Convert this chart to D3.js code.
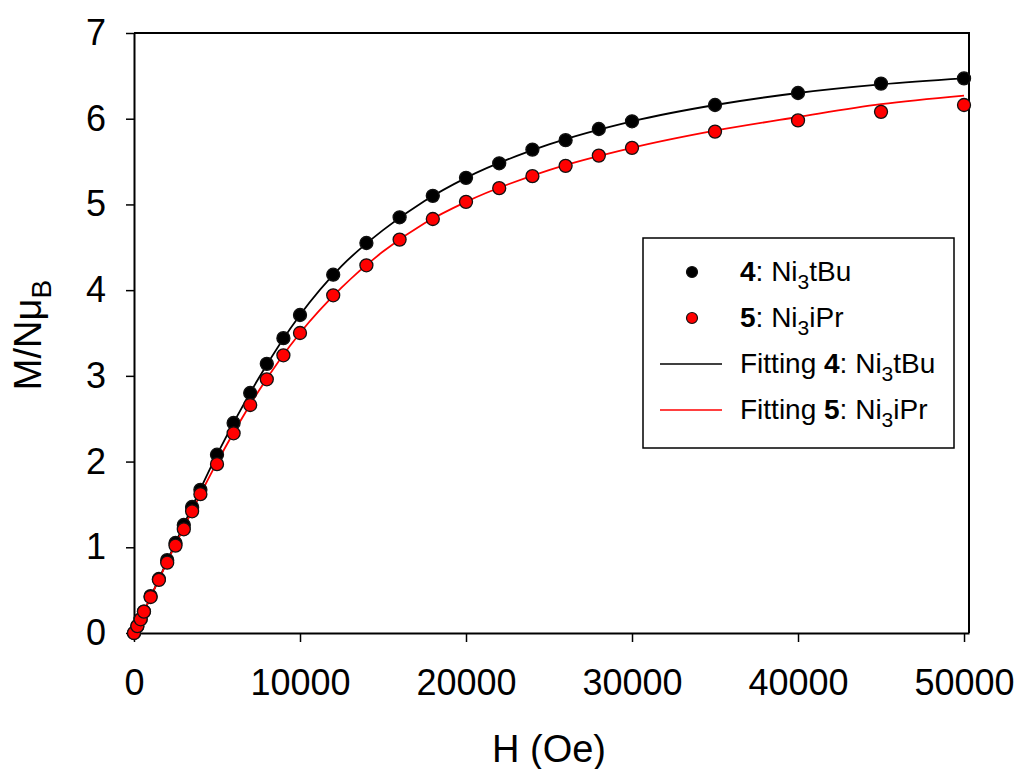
<!DOCTYPE html>
<html>
<head>
<meta charset="utf-8">
<script src="https://cdn.jsdelivr.net/npm/d3@7"></script>
<style>
  body { margin: 0; background: #fff; }
  svg text { font-family: "Liberation Sans", Arial, sans-serif; fill: #000; }
</style>
</head>
<body>
<div id="chart"></div>
<script>
// field values (Oe) for the measured points
var fieldH = [0, 200, 400, 600, 1000, 1500, 2000, 2500, 3000, 3500, 4000, 5000, 6000, 7000, 8000, 9000,
              10000, 12000, 14000, 16000, 18000, 20000, 22000, 24000, 26000, 28000, 30000, 35000, 40000, 45000, 50000];
// 4: Ni3tBu
var magNi3tBu = [0, 0.08, 0.16, 0.25, 0.43, 0.63, 0.85, 1.05, 1.26, 1.47, 1.67, 2.08, 2.45, 2.80, 3.14, 3.44,
                 3.71, 4.18, 4.55, 4.85, 5.10, 5.31, 5.48, 5.64, 5.75, 5.88, 5.97, 6.16, 6.30, 6.41, 6.47];
// 5: Ni3iPr
var magNi3iPr = [0, 0.08, 0.16, 0.25, 0.42, 0.62, 0.82, 1.02, 1.21, 1.42, 1.62, 1.97, 2.33, 2.66, 2.96, 3.24,
                 3.50, 3.94, 4.29, 4.59, 4.83, 5.03, 5.19, 5.33, 5.45, 5.57, 5.66, 5.85, 5.98, 6.08, 6.16];

// fitted curves
var fitH = [0, 2500, 5000, 7500, 10000, 12500, 15000, 17500, 20000, 25000, 30000, 35000, 40000, 45000, 50000];
var fitNi3tBu = [0, 1.05, 2.08, 2.97, 3.71, 4.28, 4.70, 5.04, 5.31, 5.70, 5.97, 6.16, 6.30, 6.40, 6.47];
var fitNi3iPr = [0, 1.03, 1.99, 2.82, 3.50, 4.03, 4.45, 4.78, 5.03, 5.40, 5.66, 5.86, 6.02, 6.17, 6.27];

var xTicks = [0, 10000, 20000, 30000, 40000, 50000];
var yTicks = [0, 1, 2, 3, 4, 5, 6, 7];

var width = 1020, height = 769;
var margin = {left: 134, right: 51, top: 33, bottom: 136};

var svg = d3.select("#chart").append("svg")
    .attr("width", width)
    .attr("height", height);

var x = d3.scaleLinear()
    .domain([0, 50300])
    .range([margin.left, width - margin.right]);

var y = d3.scaleLinear()
    .domain([0, 7])
    .range([height - margin.bottom, margin.top]);

// frame (top and right)
svg.append("path")
    .attr("d", "M" + x(0) + "," + y(7) + "H" + x(50300) + "V" + y(0))
    .attr("fill", "none")
    .attr("stroke", "#000")
    .attr("stroke-width", 2);

var xAxis = svg.append("g")
    .attr("transform", "translate(0," + y(0) + ")")
    .call(d3.axisBottom(x).tickValues(xTicks).tickFormat(d3.format("d")).tickSize(9).tickSizeOuter(0).tickPadding(27));

var yAxis = svg.append("g")
    .attr("transform", "translate(" + x(0) + ",0)")
    .call(d3.axisLeft(y).tickValues(yTicks).tickFormat(d3.format("d")).tickSize(8).tickSizeOuter(0).tickPadding(20));

[xAxis, yAxis].forEach(function(ax) {
    ax.select(".domain").attr("stroke-width", 2);
    ax.selectAll(".tick line").attr("stroke-width", 1.5);
    ax.selectAll(".tick text")
        .style("font-size", "36px")
        .style("font-family", "'Liberation Sans', Arial, sans-serif");
});

// axis titles
svg.append("text")
    .attr("x", 549)
    .attr("y", 762)
    .style("text-anchor", "middle")
    .style("font-size", "38px")
    .text("H (Oe)");

var ylab = svg.append("text")
    .attr("transform", "translate(41,335)rotate(-90)")
    .style("text-anchor", "middle")
    .style("font-size", "38px");
ylab.append("tspan").text("M/N\u03bc");
ylab.append("tspan").attr("dy", 10).style("font-size", "28px").text("B");

// fit lines
var line = d3.line()
    .curve(d3.curveMonotoneX)
    .x(function(d) { return x(d[0]); })
    .y(function(d) { return y(d[1]); });

svg.append("path")
    .datum(d3.zip(fitH, fitNi3tBu))
    .attr("fill", "none")
    .attr("stroke", "#000")
    .attr("stroke-width", 1.8)
    .attr("d", line);

svg.append("path")
    .datum(d3.zip(fitH, fitNi3iPr))
    .attr("fill", "none")
    .attr("stroke", "#ff0000")
    .attr("stroke-width", 1.8)
    .attr("d", line);

// points
function drawPoints(vals, fill) {
    svg.append("g").selectAll("circle")
        .data(d3.zip(fieldH, vals))
        .enter().append("circle")
            .attr("cx", function(d) { return x(d[0]); })
            .attr("cy", function(d) { return y(d[1]); })
            .attr("r", 6.5)
            .attr("fill", fill)
            .attr("stroke", "#111")
            .attr("stroke-width", 1.3);
}
drawPoints(magNi3tBu, "#000");
drawPoints(magNi3iPr, "#ff0000");

// legend
var legend = svg.append("g");
legend.append("rect")
    .attr("x", 643).attr("y", 238)
    .attr("width", 311).attr("height", 210)
    .attr("fill", "#fff")
    .attr("stroke", "#000")
    .attr("stroke-width", 1.5);

var legendRows = [
    {type: "dot", color: "#000", pre: "", num: "4", rest: ["Ni", "3", "tBu"]},
    {type: "dot", color: "#ff0000", pre: "", num: "5", rest: ["Ni", "3", "iPr"]},
    {type: "line", color: "#000", pre: "Fitting ", num: "4", rest: ["Ni", "3", "tBu"]},
    {type: "line", color: "#ff0000", pre: "Fitting ", num: "5", rest: ["Ni", "3", "iPr"]}
];

legendRows.forEach(function(r, i) {
    var cy = 272 + i * 46;
    if (r.type === "dot") {
        legend.append("circle")
            .attr("cx", 692).attr("cy", cy).attr("r", 5.5)
            .attr("fill", r.color).attr("stroke", "#111").attr("stroke-width", 1.2);
    } else {
        legend.append("line")
            .attr("x1", 660).attr("x2", 722).attr("y1", cy).attr("y2", cy)
            .attr("stroke", r.color).attr("stroke-width", 1.5);
    }
    var t = legend.append("text")
        .attr("x", 740).attr("y", cy + 9)
        .style("font-size", "28px");
    if (r.pre) t.append("tspan").text(r.pre);
    t.append("tspan").style("font-weight", "bold").text(r.num);
    t.append("tspan").text(": " + r.rest[0]);
    t.append("tspan").attr("dy", 8).style("font-size", "21px").text(r.rest[1]);
    t.append("tspan").attr("dy", -8).text(r.rest[2]);
});
</script>
</body>
</html>
